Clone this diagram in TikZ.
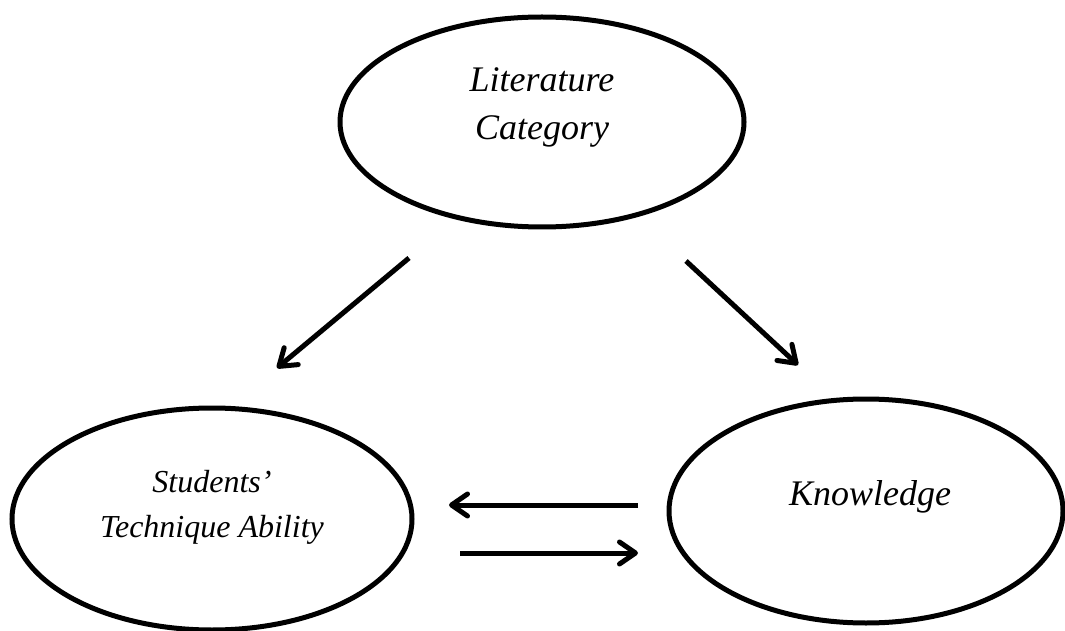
\documentclass[tikz,border=0pt]{standalone}
\usepackage{fontspec}
\setmainfont{Liberation Serif}
\usetikzlibrary{shapes.geometric,arrows.meta}
\begin{document}
\begin{tikzpicture}[x=1pt,y=1pt,
  oval/.style={draw, line width=5pt, ellipse, inner sep=0pt, outer sep=0pt},
  lbl/.style={anchor=base, inner sep=0pt, font=\itshape\fontsize{36}{48}\selectfont},
  lblsmall/.style={anchor=base, inner sep=0pt, font=\itshape\fontsize{32}{44}\selectfont},
  flow/.style={line width=5pt, -{Straight Barb[length=16pt,width=22pt,round]}}]
\useasboundingbox[fill=white] (0,0) rectangle (1065,630);
% ellipses
\node[oval, minimum width=404pt, minimum height=210pt] (lit) at (542,508) {};
\node[oval, minimum width=400pt, minimum height=222pt] (stu) at (212,111) {};
\node[oval, minimum width=394pt, minimum height=224pt] (kno) at (866,119) {};
% texts
\node[lbl] (litA) at (542,538) {Literature};
\node[lbl] (litB) at (542,490) {Category};
\node[lblsmall] (stuA) at (212,138) {Students’};
\node[lblsmall] (stuB) at (212,93) {Technique Ability};
\node[lbl] (knoA) at (870,125) {Knowledge};
% arrow end points
\coordinate (a1s) at (409,372);
\coordinate (a1e) at (277,262);
\coordinate (a2s) at (686,369);
\coordinate (a2e) at (798,265);
\coordinate (a3s) at (638,125);
\coordinate (a3e) at (449,125);
\coordinate (a4s) at (460,77);
\coordinate (a4e) at (638,77);
\draw[flow] (a1s) -- (a1e);
\draw[flow] (a2s) -- (a2e);
\draw[flow] (a3s) -- (a3e);
\draw[flow] (a4s) -- (a4e);
\end{tikzpicture}
\end{document}
